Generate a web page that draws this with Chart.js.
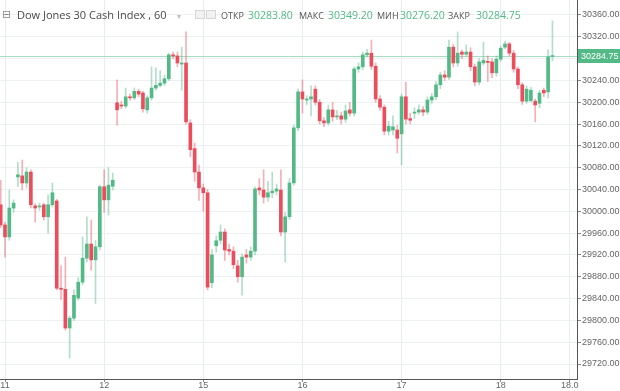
<!DOCTYPE html>
<html><head><meta charset="utf-8">
<script src="https://cdn.jsdelivr.net/npm/chart.js@4/dist/chart.umd.min.js"></script>
<style>
html,body{margin:0;padding:0;background:#fff;width:620px;height:391px;overflow:hidden}
#wrap{position:relative;width:620px;height:391px}
canvas{display:block;position:absolute;left:0;top:0}
.h{position:absolute;white-space:nowrap;font-family:"Open Sans",sans-serif;line-height:14px}
.lab{font-size:9px;color:#555;top:9px}
.val{font-size:10.5px;color:#53b987;top:8px}
.box{position:absolute;top:10px;width:8px;height:7px;border:1px solid #d6d6d6;background:#f2f2f2}
</style></head>
<body><div id="wrap">
<canvas id="c" width="620" height="391"></canvas>
<div class="h" style="left:2px;top:8px;font-family:'DejaVu Sans';font-size:11px;color:#8a8a8a">⊟</div>
<div class="h" style="left:17px;top:8px;font-size:11px;color:#4a4a4a">Dow Jones 30 Cash Index , 60</div>
<div class="h" style="left:177px;top:9px;font-size:8px;color:#c0c0c0">▾</div>
<div class="box" style="left:195px"></div><div class="box" style="left:206px"></div>
<div class="h lab" style="left:221px">ОТКР</div><div class="h val" style="left:248px">30283.80</div>
<div class="h lab" style="left:299px">МАКС</div><div class="h val" style="left:328px">30349.20</div>
<div class="h lab" style="left:377px">МИН</div><div class="h val" style="left:400px">30276.20</div>
<div class="h lab" style="left:448px">ЗАКР</div><div class="h val" style="left:476px">30284.75</div>
</div>
<script>
const opens=[30012,29975,29953,30006,30063,30065,30052,30072,30010,30008,30012,29990,30012,30019,29859,29857,29786,29804,29841,29870,29914,29940,29911,29935,30045,30021,30046,
30199,30195,30193,30210,30208,30220,30217,30186,30208,30226,30231,30235,30243,30287,30285,30270,30272,30162,30115,30072,
30043,30034,29869,29937,29947,29962,29930,29927,29900,29880,29920,29916,29927,30043,30039,30026,30034,30037,30039,29962,29990,30052,30153,30219,30204,30206,30224,30200,30166,30162,30186,30173,30175,30169,30186,30180,30261,30265,30287,30290,30266,30206,30191,30147,
30149,30149,30142,30210,30170,30180,30182,30186,30182,30204,30210,30232,30250,30246,30301,30272,30292,30288,30292,30265,30237,30272,30275,30274,30254,30279,30301,30307,30290,30261,30232,30202,30203,30202,30198,30222,30219,30283.80];
const highs=[30057,29980,30039,30021,30090,30094,30080,30076,30014,30015,30015,30030,30052,30022,29900,29916,29808,29856,29878,29953,29990,29984,29947,30048,30076,30080,30070,
30241,30202,30226,30215,30226,30224,30220,30212,30265,30263,30258,30250,30290,30292,30292,30301,30329,30168,30125,30085,
30050,30040,29930,29955,29975,29968,29940,29935,29910,29922,29930,29935,30045,30060,30076,30055,30072,30050,30076,29998,30060,30158,30224,30241,30212,30230,30230,30205,30172,30195,30200,30185,30182,30195,30200,30265,30272,30292,30297,30314,30272,30212,30195,30165,
30175,30158,30215,30237,30180,30190,30195,30192,30210,30216,30238,30255,30258,30314,30306,30329,30296,30305,30300,30270,30280,30310,30285,30280,30285,30303,30312,30310,30295,30265,30236,30230,30228,30206,30222,30226,30296,30349.20];
const lows=[29970,29916,29947,29998,30045,30039,30043,30006,29980,30002,29984,29960,30008,29856,29838,29782,29731,29800,29837,29865,29907,29892,29831,29929,29998,29993,30039,
30158,30188,30189,30204,30205,30210,30182,30180,30204,30222,30228,30230,30240,30280,30265,30222,30160,30100,30055,30020,
30000,29856,29860,29925,29940,29910,29920,29895,29870,29846,29905,29910,29920,30030,30015,30018,30025,30030,29955,29907,29985,30048,30148,30180,30195,30175,30195,30160,30155,30158,30165,30168,30160,30163,30175,30175,30255,30260,30283,30260,30200,30185,30140,30140,
30140,30107,30085,30160,30160,30170,30178,30175,30178,30198,30205,30225,30240,30242,30265,30266,30280,30284,30258,30230,30232,30268,30238,30245,30248,30275,30298,30285,30255,30225,30196,30198,30200,30164,30190,30210,30208,30276.20];
const closes=[29975,29953,30006,30015,30067,30052,30072,30012,30006,30010,29990,30012,30034,29859,29857,29786,29804,29846,29870,29914,29940,29911,29935,30045,30021,30048,30057,
30186,30193,30210,30208,30220,30215,30188,30208,30226,30231,30235,30243,30287,30285,30272,30272,30164,30113,30072,30043,
30034,29861,29920,29946,29962,29929,29927,29902,29880,29916,29916,29927,30041,30039,30026,30034,30037,30041,29962,29990,30052,30153,30219,30206,30206,30210,30200,30166,30162,30186,30173,30175,30169,30184,30180,30261,30265,30287,30290,30266,30206,30191,30147,30156,
30155,30134,30210,30169,30167,30182,30186,30182,30204,30210,30232,30250,30246,30301,30272,30290,30288,30292,30265,30237,30274,30277,30273,30254,30279,30299,30307,30290,30261,30232,30202,30224,30222,30195,30217,30217,30283,30284.75];
const dayLabels=['11','12','15','16','17','18','18.0'];
const dayTickIdx=[1,24,47,70,93,116,132];
const yTicks=[29720,29760,29800,29840,29880,29920,29960,30000,30040,30080,30120,30160,30200,30240,30280,30320,30360];
const lastPrice=30284.75;

const UP='#53b987', DN='#eb4d5c', UPW='rgba(83,185,135,0.45)', DNW='rgba(235,77,92,0.45)';
const up=closes.map((c,i)=>c>=opens[i]);
const bodies=opens.map((o,i)=>({x:i,y:[o,closes[i]]}));
const wicks=opens.map((o,i)=>({x:i,y:[lows[i],highs[i]]}));

const pricePlugin={id:'price',
 beforeDatasetsDraw(chart){const {ctx,chartArea:a,scales:{y}}=chart;const py=Math.round(y.getPixelForValue(lastPrice))+0.5;
  ctx.save();ctx.strokeStyle='#a6dcc1';ctx.lineWidth=1;ctx.beginPath();ctx.moveTo(a.left,py);ctx.lineTo(a.right,py);ctx.stroke();ctx.restore();},
 afterDraw(chart){const {ctx,chartArea:a,scales:{y}}=chart;const py=Math.round(y.getPixelForValue(lastPrice));
  ctx.save();ctx.fillStyle=UP;ctx.fillRect(a.right+1,py-7,620-a.right-1,14);
  ctx.fillStyle='#fff';ctx.font='9px "Liberation Sans"';ctx.textBaseline='middle';ctx.textAlign='left';
  ctx.fillText(lastPrice.toFixed(2),a.right+4,py+0.5);ctx.restore();}
};

new Chart(document.getElementById('c'),{
 type:'bar',
 data:{datasets:[
  {data:bodies,backgroundColor:up.map(u=>u?UP:DN),barThickness:3,minBarLength:1,borderWidth:0,grouped:false,order:1},
  {data:wicks,backgroundColor:up.map(u=>u?UPW:DNW),barThickness:1,borderWidth:0,grouped:false,order:2}
 ]},
 options:{responsive:false,animation:false,maintainAspectRatio:false,
  layout:{padding:0},
  plugins:{legend:{display:false},tooltip:{enabled:false}},
  scales:{
   x:{type:'linear',min:-0.16,max:133.7,offset:false,
     grid:{offset:false,color:'#e8edf1',tickColor:'#888',tickLength:3,drawTicks:true},
     border:{display:true,color:'#555'},
     afterBuildTicks(s){s.ticks=dayTickIdx.map(v=>({value:v}));},
     afterFit(s){s.height=12;s.paddingLeft=0;s.paddingRight=0;},
     ticks:{autoSkip:false,maxRotation:0,padding:-2,color:'#666',font:{family:'Liberation Sans',size:9},
       callback:(v,i)=>dayLabels[i]}},
   y:{type:'linear',position:'right',min:29692.5,max:30387.5,
     grid:{color:'#eef1f4',tickColor:'#888',tickLength:4,drawTicks:true},
     border:{display:true,color:'#555'},
     afterBuildTicks(s){s.ticks=yTicks.map(v=>({value:v}));},
     afterFit(s){s.width=43;s.paddingTop=0;s.paddingBottom=0;},
     ticks:{padding:1,color:'#666',font:{family:'Liberation Sans',size:9},callback:v=>v.toFixed(2)}}
  }},
 plugins:[pricePlugin]
});
</script></body></html>
